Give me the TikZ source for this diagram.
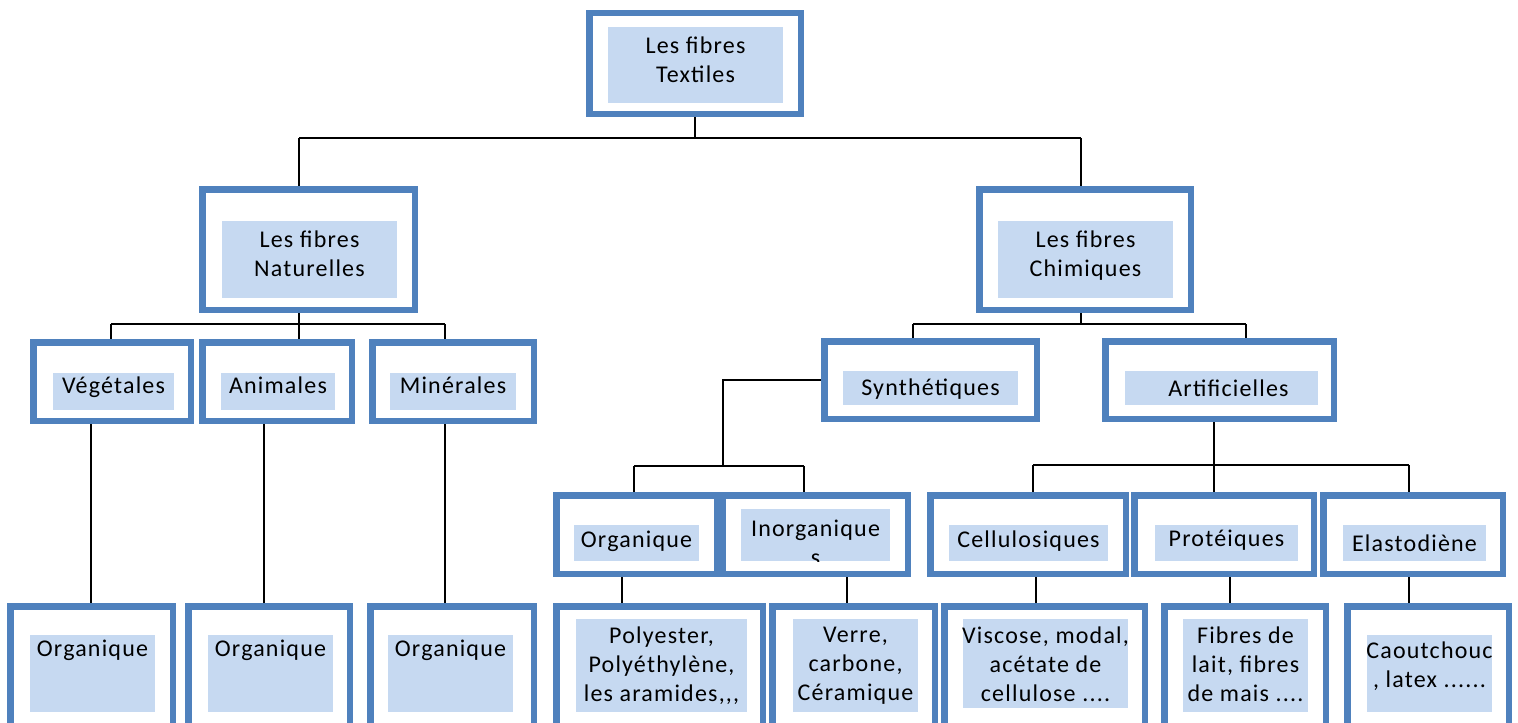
\documentclass[tikz,border=0pt]{standalone}
\usepackage{fontspec}
\setmainfont{Carlito}[LetterSpace=5, Ligatures=TeXOff]
\usetikzlibrary{backgrounds}

\definecolor{bordure}{RGB}{79,129,189}
\definecolor{fondbleu}{RGB}{198,217,241}

\tikzset{
  cadre/.style={draw=bordure, line width=3.25pt, inner sep=0pt},
  fond/.style={fill=fondbleu, inner sep=0pt},
  texte/.style={inner sep=0pt, align=center},
  lien/.style={draw=black, line width=0.9pt},
}

% outer blue frame, from its outer corners (in pixels)
\newcommand{\boite}[5]{%
  \node[cadre, minimum width={(#4-#2-6.5)*0.5pt}, minimum height={(#5-#3-6.5)*0.5pt}]
    (#1) at ({(#2+#4)/2},{(#3+#5)/2}) {};}
% light blue block and its text, raised by the optional argument
\newcommand{\bloc}[7][0pt]{%
  \node[fond, minimum width={(#5-#3)*0.5pt}, minimum height={(#6-#4)*0.5pt}]
    (#2) at ({(#3+#5)/2},{(#4+#6)/2}) {};
  \node[texte] (#2-t) at ([yshift=#1]#2.center) {#7};}

\begin{document}
\begin{tikzpicture}[x=0.5pt, y=-0.5pt, font=\fontsize{12}{14.5}\selectfont]
            \useasboundingbox (0,0) rectangle (1518,722);
            \clip (0,0) rectangle (1518,722);

            % Draw the top box
            \boite{textiles}{586}{10}{804}{117}
            \bloc[2.5pt]{textiles-f}{608}{27}{783}{103}{Les fibres\\Textiles}

            % Draw the two families
            \boite{naturelles}{199}{186}{418}{313}
            \bloc[2.75pt]{naturelles-f}{222}{221}{397}{298}{Les fibres\\Naturelles}
            \boite{chimiques}{976}{186}{1194}{313}
            \bloc[1.75pt]{chimiques-f}{998}{221}{1173}{298}{Les fibres\\Chimiques}

            % Draw the second row
            \boite{vegetales}{30}{339}{194}{424}
            \bloc[2pt]{vegetales-f}{53}{373}{174}{410}{Végétales}
            \boite{animales}{199}{339}{355}{424}
            \bloc[3pt]{animales-f}{221}{373}{335}{410}{Animales}
            \boite{minerales}{369}{339}{537}{424}
            \bloc[3pt]{minerales-f}{390}{373}{516}{410}{Minérales}
            \boite{synthetiques}{821}{338}{1040}{422}
            \bloc[-0.5pt]{synthetiques-f}{843}{371}{1018}{405}{Synthétiques}
            \boite{artificielles}{1102}{338}{1337}{422}
            \bloc{artificielles-f}{1125}{371}{1318}{405}{\hspace{7pt}Artificielles}

            % Draw the third row
            \boite{organiqueS}{553}{492}{726}{577}
            \bloc[1pt]{organiqueS-f}{574}{525}{699}{561}{Organique}
            \boite{inorganique}{714}{492}{911}{577}
            \node[fond, minimum width=74.5pt, minimum height=26pt] (inorganique-f) at (815.5,535) {};
            \begin{scope}
              \clip (inorganique-f.south west) rectangle (inorganique-f.north east);
              \node[texte, anchor=north] (inorganique-t) at ([yshift=-5.25pt]inorganique-f.north) {Inorganique\\s};
            \end{scope}
            \boite{cellulosiques}{927}{492}{1129}{577}
            \bloc[1pt]{cellulosiques-f}{949}{525}{1108}{561}{Cellulosiques}
            \boite{proteiques}{1131}{492}{1317}{577}
            \bloc[1.5pt]{proteiques-f}{1155}{525}{1298}{561}{Protéiques}
            \boite{elastodiene}{1320}{492}{1506}{577}
            \bloc{elastodiene-f}{1343}{525}{1486}{561}{Elastodiène}

            % Draw the last row (cut by the page edge)
            \boite{org1}{7}{603}{176}{735}
            \node[fond, minimum width=62.5pt, minimum height=38.5pt] (org1-f) at (92.5,673.5) {};
            \node[texte, anchor=north] (org1-t) at ([yshift=-2.25pt]org1-f.north) {Organique};
            \boite{org2}{185}{603}{353}{735}
            \node[fond, minimum width=62.5pt, minimum height=38.5pt] (org2-f) at (270.5,673.5) {};
            \node[texte, anchor=north] (org2-t) at ([yshift=-2.25pt]org2-f.north) {Organique};
            \boite{org3}{367}{603}{537}{735}
            \node[fond, minimum width=62.5pt, minimum height=38.5pt] (org3-f) at (450.5,673.5) {};
            \node[texte, anchor=north] (org3-t) at ([yshift=-2.25pt]org3-f.north) {Organique};
            \boite{polyester}{553}{603}{766}{735}
            \bloc{polyester-f}{576}{619}{747}{712}{Polyester,\\Polyéthylène,\\les aramides,,,}
            \boite{verre}{769}{603}{938}{735}
            \bloc{verre-f}{793}{619}{918}{712}{Verre,\\carbone,\\Céramique}
            \boite{viscose}{941}{603}{1148}{735}
            \bloc[-0.5pt]{viscose-f}{963}{619}{1128}{708}{Viscose, modal,\\acétate de\\cellulose ....}
            \boite{fibres}{1161}{603}{1329}{735}
            \bloc[0.5pt]{fibres-f}{1183}{619}{1308}{712}{Fibres de\\lait, fibres\\de mais ....}
            \boite{caoutchouc}{1344}{603}{1512}{735}
            \bloc[3.5pt]{caoutchouc-f}{1367}{635}{1492}{712}{Caoutchouc\\, latex ......}

            \begin{pgfonlayer}{background}
            % Draw the links under Textiles
            \coordinate (bT) at (695,138);
            \coordinate (bTg) at (299,138);
            \coordinate (bTd) at (1081,138);
            \draw[lien] (textiles.south) -- (bT);
            \draw[lien] (bTg) -- (bTd);
            \draw[lien] (bTg) -- (bTg |- naturelles.north);
            \draw[lien] (bTd) -- (bTd |- chimiques.north);

            % Draw the links under Naturelles
            \coordinate (bNg) at (111,324);
            \coordinate (bNd) at (445,324);
            \draw[lien] (bTg |- naturelles.south) -- (bTg |- animales.north);
            \draw[lien] (bNg) -- (bNd);
            \draw[lien] (bNg) -- (bNg |- vegetales.north);
            \draw[lien] (bNd) -- (bNd |- minerales.north);
            \coordinate (cV) at (91,500);
            \coordinate (cA) at (264,500);
            \draw[lien] (cV |- vegetales.south) -- (cV |- org1.north);
            \draw[lien] (cA |- animales.south) -- (cA |- org2.north);
            \draw[lien] (bNd |- minerales.south) -- (bNd |- org3.north);

            % Draw the links under Chimiques
            \coordinate (bCg) at (913,324);
            \coordinate (bCd) at (1246,324);
            \draw[lien] (bTd |- chimiques.south) -- (bTd |- bCg);
            \draw[lien] (bCg) -- (bCd);
            \draw[lien] (bCg) -- (bCg |- synthetiques.north);
            \draw[lien] (bCd) -- (bCd |- artificielles.north);

            % Draw the links of Synthetiques
            \coordinate (bS) at (723,466);
            \coordinate (bSg) at (634,466);
            \coordinate (bSd) at (804,466);
            \draw[lien] (synthetiques.west) -| (bS);
            \draw[lien] (bSg) -- (bSd);
            \draw[lien] (bSg) -- (bSg |- organiqueS.north);
            \draw[lien] (bSd) -- (bSd |- inorganique.north);

            % Draw the links of Artificielles
            \coordinate (bA) at (1214,465);
            \coordinate (bAg) at (1033,465);
            \coordinate (bAd) at (1409,465);
            \draw[lien] (bA |- artificielles.south) -- (bA |- proteiques.north);
            \draw[lien] (bAg) -- (bAd);
            \draw[lien] (bAg) -- (bAg |- cellulosiques.north);
            \draw[lien] (bAd) -- (bAd |- elastodiene.north);

            % Draw the links to the last row
            \coordinate (cO) at (622,590);
            \coordinate (cI) at (847,590);
            \coordinate (cC) at (1036,590);
            \coordinate (cP) at (1230,590);
            \draw[lien] (cO |- organiqueS.south) -- (cO |- polyester.north);
            \draw[lien] (cI |- inorganique.south) -- (cI |- verre.north);
            \draw[lien] (cC |- cellulosiques.south) -- (cC |- viscose.north);
            \draw[lien] (cP |- proteiques.south) -- (cP |- fibres.north);
            \draw[lien] (bAd |- elastodiene.south) -- (bAd |- caoutchouc.north);
            \end{pgfonlayer}
\end{tikzpicture}
\end{document}
